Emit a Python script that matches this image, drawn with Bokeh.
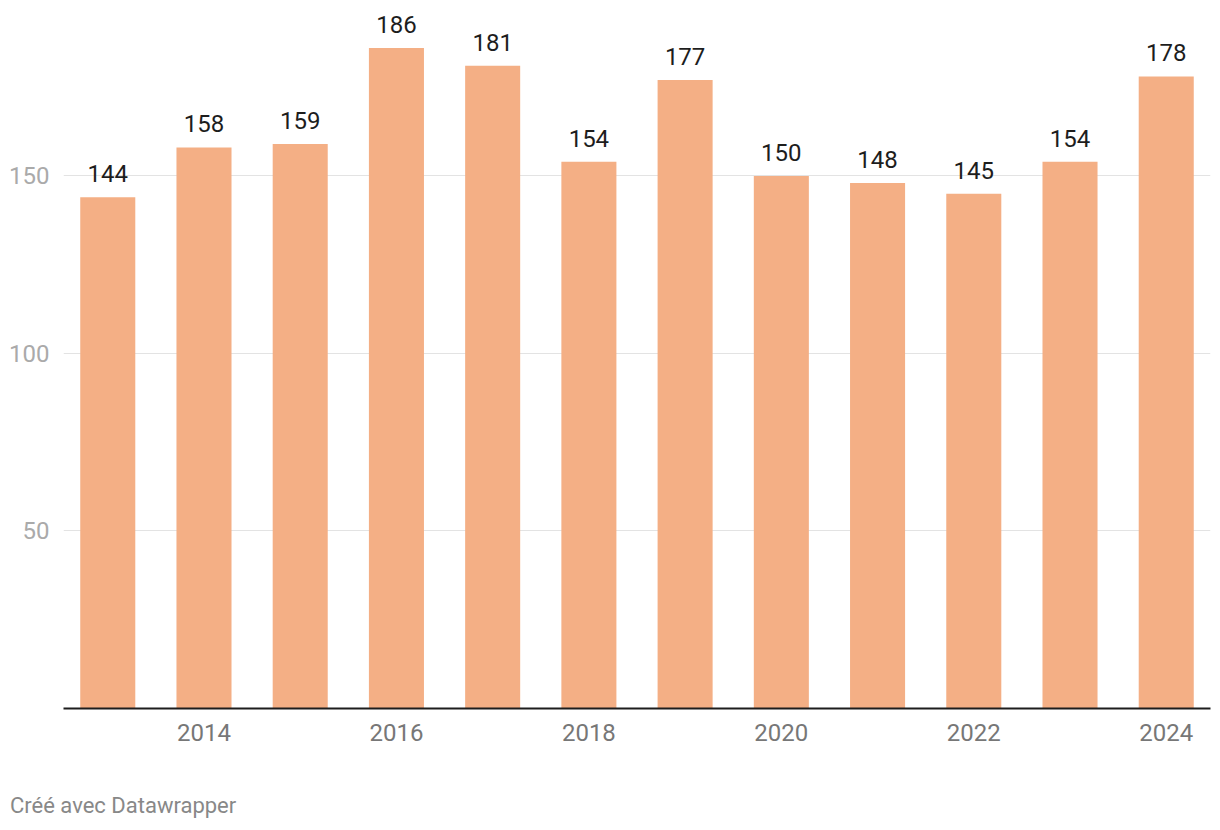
from bokeh.plotting import figure
from bokeh.models import ColumnDataSource, Range1d, FixedTicker, LabelSet, Div
from bokeh.layouts import column
from bokeh.core.properties import value
from bokeh.embed import file_html
from bokeh.resources import INLINE

years = [2013, 2014, 2015, 2016, 2017, 2018, 2019, 2020, 2021, 2022, 2023, 2024]
values = [144, 158, 159, 186, 181, 154, 177, 150, 148, 145, 154, 178]
x_ticks = [2014, 2016, 2018, 2020, 2022, 2024]
y_ticks = [50, 100, 150]
footer = "Créé avec Datawrapper"

src = ColumnDataSource(dict(x=years, top=values, label=[str(v) for v in values]))

X0, X1 = 2012.54, 2024.46
p = figure(width=1212, height=780, output_backend="svg", toolbar_location=None,
           x_range=Range1d(X0, X1), y_range=Range1d(0, 199.4),
           min_border_left=63, min_border_right=2, min_border_top=0, min_border_bottom=72)
p.outline_line_color = None
p.background_fill_color = "white"
p.border_fill_color = "white"

p.vbar(x="x", top="top", width=0.572, bottom=0, source=src,
       fill_color="#f4af85", line_color=None)

labels = LabelSet(x="x", y="top", text="label", source=src, text_align="center",
                  text_baseline="alphabetic", y_offset=15, text_font=value("Roboto"),
                  text_font_size="24px", text_color="#1d1d1d")
p.add_layout(labels)

# x axis
p.xaxis.ticker = FixedTicker(ticks=x_ticks)
p.xaxis.axis_line_color = "#1d1d1d"
p.xaxis.axis_line_width = 2
p.xaxis.major_tick_line_color = None
p.xaxis.minor_tick_line_color = None
p.xaxis.major_label_text_font = "Roboto"
p.xaxis.major_label_text_font_size = "24px"
p.xaxis.major_label_text_color = "#777777"
p.xaxis.major_label_standoff = 9
p.xgrid.grid_line_color = None

# y axis
p.yaxis.ticker = FixedTicker(ticks=y_ticks)
p.yaxis.axis_line_color = None
p.yaxis.major_tick_line_color = None
p.yaxis.minor_tick_line_color = None
p.yaxis.major_label_text_font = "Roboto"
p.yaxis.major_label_text_font_size = "24px"
p.yaxis.major_label_text_color = "#aaaaaa"
p.yaxis.major_label_standoff = 8
p.ygrid.grid_line_color = "#e3e3e3"
p.ygrid.grid_line_width = 1

foot = Div(text=footer, width=400, height=30, margin=(13, 0, 0, 10),
           styles={"font-family": "Roboto", "font-size": "22px", "color": "#888888",
                   "line-height": "26px"})

layout = column(p, foot, spacing=0)
open("out.html", "w").write(file_html(layout, INLINE))
